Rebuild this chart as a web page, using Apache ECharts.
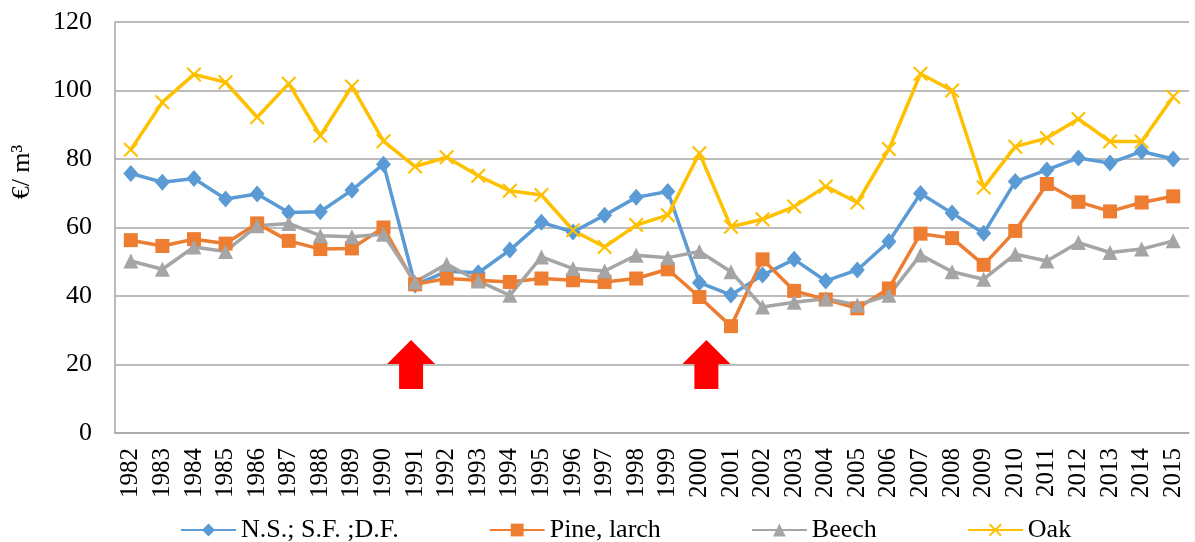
<!DOCTYPE html>
<html>
<head>
<meta charset="utf-8">
<script src="https://cdn.jsdelivr.net/npm/echarts@6/dist/echarts.min.js"></script>
<style>
    html, body { margin: 0; padding: 0; background: #fff; }
    #chart { width: 1195px; height: 542px; }
</style>
</head>
<body>
<div id="chart"></div>
<script type="text/javascript">
    var years = ["1982", "1983", "1984", "1985", "1986", "1987", "1988", "1989", "1990", "1991",
        "1992", "1993", "1994", "1995", "1996", "1997", "1998", "1999", "2000", "2001",
        "2002", "2003", "2004", "2005", "2006", "2007", "2008", "2009", "2010", "2011",
        "2012", "2013", "2014", "2015"];

    var spruceFir = [75.8, 73.2, 74.3, 68.3, 69.8, 64.4, 64.6, 70.9, 78.5, 43.2,
        47.2, 46.8, 53.4, 61.5, 58.7, 63.6, 68.8, 70.5, 43.9, 40.3,
        46.1, 50.7, 44.4, 47.6, 55.9, 69.9, 64.2, 58.3, 73.4, 76.8,
        80.3, 78.8, 82.2, 80.0];
    var pineLarch = [56.3, 54.6, 56.6, 55.3, 61.2, 56.1, 53.7, 53.9, 60.0, 43.4,
        45.1, 44.6, 44.1, 45.1, 44.6, 44.1, 45.1, 47.8, 39.7, 31.2,
        50.7, 41.5, 39.0, 36.4, 42.2, 58.2, 56.9, 49.1, 59.0, 72.7,
        67.5, 64.7, 67.3, 69.1];
    var beech = [50.2, 47.8, 54.3, 53.0, 60.5, 61.2, 57.6, 57.3, 58.0, 44.1,
        49.3, 44.4, 40.2, 51.4, 48.0, 47.3, 51.9, 51.2, 53.0, 47.1,
        36.8, 38.2, 39.2, 37.4, 40.2, 52.0, 47.1, 44.9, 52.2, 50.2,
        55.6, 52.7, 53.7, 56.1];
    var oak = [82.7, 96.6, 104.7, 102.4, 92.2, 102.0, 86.8, 101.2, 85.2, 77.8,
        80.5, 75.1, 70.7, 69.5, 59.2, 54.3, 60.7, 63.6, 81.7, 60.2,
        62.4, 66.1, 72.0, 67.3, 82.9, 104.9, 100.0, 71.7, 83.6, 86.1,
        91.7, 85.1, 85.1, 98.2];

    var seriesNames = ["N.S.; S.F. ;D.F.", "Pine, larch", "Beech", "Oak"];
    // years marked with red arrows
    var arrowYears = ["1991", "2000"];

    var serif = "'Liberation Serif', 'Times New Roman', serif";
    var gridColor = "#A6A6A6";
    var crossPath = "path://M0,1.2 L1.2,0 L12,10.8 L10.8,12 Z M10.8,0 L12,1.2 L1.2,12 L0,10.8 Z";
    var arrowPath = "path://M24,0 L48,24 L36,24 L36,49 L12,49 L12,24 L0,24 Z";

    function lineSeries(name, data, color, symbol, size) {
        return {
            name: name,
            type: "line",
            data: data,
            symbol: symbol,
            symbolSize: size,
            showAllSymbol: true,
            lineStyle: { color: color, width: 3.5 },
            itemStyle: { color: color },
            emphasis: { disabled: true }
        };
    }

    var series = [
        lineSeries(seriesNames[0], spruceFir, "#5B9BD5", "diamond", [15, 17]),
        lineSeries(seriesNames[1], pineLarch, "#ED7D31", "rect", 14),
        lineSeries(seriesNames[2], beech, "#A5A5A5", "triangle", 15),
        lineSeries(seriesNames[3], oak, "#FFC000", crossPath, 15)
    ];

    series[0].markPoint = {
        silent: true,
        symbol: arrowPath,
        symbolSize: [48, 49],
        label: { show: false },
        itemStyle: { color: "#FF0000" },
        data: [
            { coord: [arrowYears[0], 20], symbolOffset: [-4, 0] },
            { coord: [arrowYears[1], 20], symbolOffset: [7, 0] }
        ]
    };

    var option = {
        backgroundColor: "#ffffff",
        animation: false,
        textStyle: { fontFamily: serif },
        grid: { left: 115, right: 6, top: 22, bottom: 109, containLabel: false },
        legend: {
            data: seriesNames,
            left: 175,
            top: 512,
            itemWidth: 55,
            itemHeight: 16,
            itemGap: 90,
            textStyle: { fontFamily: serif, fontSize: 26, color: "#000" }
        },
        xAxis: {
            type: "category",
            data: years,
            boundaryGap: true,
            axisTick: { show: false },
            axisLine: { lineStyle: { color: gridColor, width: 1.5 } },
            axisLabel: {
                interval: 0,
                rotate: 90,
                margin: 15,
                fontFamily: serif,
                fontSize: 25,
                color: "#000"
            }
        },
        yAxis: {
            type: "value",
            min: 0,
            max: 120,
            interval: 20,
            axisLine: { show: true, lineStyle: { color: gridColor, width: 1.5 } },
            axisTick: { show: false },
            splitLine: { lineStyle: { color: gridColor, width: 1.5 } },
            axisLabel: {
                margin: 23,
                fontFamily: serif,
                fontSize: 26,
                color: "#000"
            }
        },
        graphic: [{
            type: "text",
            x: 22,
            y: 172,
            rotation: Math.PI / 2,
            style: {
                text: "€/ m³",
                font: "26px " + serif,
                fill: "#000",
                align: "center",
                verticalAlign: "middle"
            }
        }],
        series: series
    };

    var chart = echarts.init(document.getElementById("chart"));
    chart.setOption(option);
</script>
</body>
</html>
